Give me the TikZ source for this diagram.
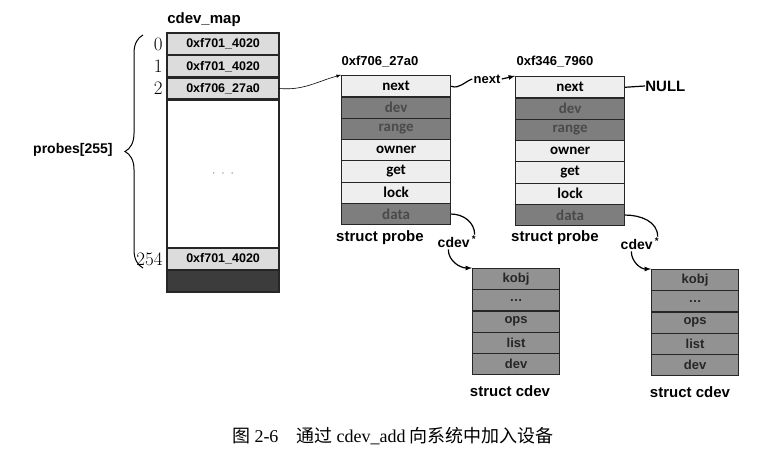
\documentclass[tikz,border=0pt]{standalone}
\usepackage{fontspec}
\newfontfamily\arialfont{Liberation Sans}
\newfontfamily\calfont{Carlito}
\newfontfamily\serfont{Liberation Serif}
\newfontfamily\cjk{Noto Sans CJK SC}
\usepackage{xcolor}
\usepackage{tikz}
\usetikzlibrary{positioning}
\usetikzlibrary{decorations.pathreplacing}

\definecolor{cellMap}{HTML}{DCDCDC}
\definecolor{cellLight}{HTML}{EEEEEE}
\definecolor{cellDark}{HTML}{7E7E7E}
\definecolor{cellMid}{HTML}{929292}
\definecolor{inkGray}{HTML}{4A4A4A}
\definecolor{frameInk}{HTML}{262626}

\tikzset{
  mapcell/.style={draw=frameInk, line width=1.2pt, fill=cellMap, minimum width=111pt, minimum height=21pt, inner sep=0pt, anchor=north west, font=\arialfont\bfseries\fontsize{12.5}{12.5}\selectfont},
  pfield/.style={draw=frameInk, line width=1.2pt, minimum width=109pt, minimum height=21.3pt, inner sep=0pt, anchor=north west, font=\calfont\bfseries\fontsize{15}{15}\selectfont},
  cfield/.style={draw=frameInk, line width=1.2pt, fill=cellMid, text=black!85, minimum width=87pt, minimum height=21.2pt, inner sep=0pt, anchor=north west, font=\arialfont\bfseries\fontsize{13}{13}\selectfont},
  lbl/.style={font=\arialfont\bfseries\fontsize{13}{13}\selectfont, inner sep=1pt},
  biglbl/.style={lbl, font=\arialfont\bfseries\fontsize{15}{15}\selectfont},
  idx/.style={font=\fontsize{19}{19}\selectfont, inner sep=0pt},
}

\begin{document}
\begin{tikzpicture}[x=1pt, y=-1pt, >=latex, thick]
    \useasboundingbox (0,0) rectangle (780,455);

        % cdev_map array
        \node[biglbl] (mapname) at (204,20) {cdev\_map};
        \node[mapcell] (m0) at (167,33) {0xf701\_4020};
        \node[mapcell, below=0pt of m0] (m1) {0xf701\_4020};
        \node[mapcell, below=0pt of m1] (m2) {0xf706\_27a0};
        \node[mapcell, below=0pt of m2, fill=white, minimum height=147pt, text=black!60] (mgap) {$\cdot\;\cdot\;\cdot$};
        \node[mapcell, below=0pt of mgap] (m254) {0xf701\_4020};
        \node[mapcell, below=0pt of m254, fill=frameInk!90] (mdark) {};
        \draw[line width=2.4pt, frameInk] (m0.north west) rectangle (mdark.south east);

        % indices
        \node[idx, left=4pt of m0] (i0) {0};
        \node[idx, left=4pt of m1] (i1) {1};
        \node[idx, left=4pt of m2] (i2) {2};
        \node[idx, left=4pt of m254] (i254) {254};

        % brace and its label
        \draw[decorate, decoration={brace, amplitude=18pt}, line width=1pt] (143,268) -- (143,35);
        \node[lbl, font=\arialfont\bfseries\fontsize{14}{14}\selectfont, anchor=east] (prb) at (114,150) {probes[255]};

        % two struct probe
        \foreach \f/\c/\t [count=\i] in {next/cellLight/black, dev/cellDark/inkGray, range/cellDark/inkGray, owner/cellLight/black, get/cellLight/black, lock/cellLight/black, data/cellDark/inkGray}{
            \node[pfield, fill=\c, text=\t] (pa\i) at (341,{75+21.3*(\i-1)}) {\f};
            \node[pfield, fill=\c, text=\t] (pb\i) at (515,{76+21.3*(\i-1)}) {\f};
        }
        \node[lbl] (addra) at (380,62) {0xf706\_27a0};
        \node[lbl] (addrb) at (555,62) {0xf346\_7960};
        \node[biglbl] (spa) at (380,238) {struct probe};
        \node[biglbl] (spb) at (555,238) {struct probe};

        % two struct cdev
        \foreach \f [count=\i] in {kobj, {\ldots}, ops, list, dev}{
            \node[cfield] (ca\i) at (472,{268+21.2*(\i-1)}) {\f};
            \node[cfield] (cb\i) at (651,{269+21.2*(\i-1)}) {\f};
        }
        \node[biglbl] (sca) at (510,391) {struct cdev};
        \node[biglbl] (scb) at (690,392) {struct cdev};

        % links
        \draw[->, line width=0.6pt] (m2.east) to[out=-5, in=195] (pa1.north west);
        \node[lbl] (nxt) at (487,79) {next};
        \draw[line width=1.2pt] (pa1.east) to[out=-20, in=200] (nxt.west);
        \draw[->, line width=1.2pt] (nxt.east) -- (pb1.north west);
        \node[font=\arialfont\bfseries\fontsize{15}{15}\selectfont, anchor=west, inner sep=0pt] (null) at (645,86) {NULL};
        \draw[line width=1.2pt] (pb1.east) -- (null.west);

        \node[lbl, font=\arialfont\bfseries\fontsize{14}{14}\selectfont] (cpa) at (457,242) {cdev\,\textsuperscript{*}};
        \node[lbl, font=\arialfont\bfseries\fontsize{14}{14}\selectfont] (cpb) at (640,244) {cdev\,\textsuperscript{*}};
        \draw[line width=1.2pt] (pa7.east) to[out=0, in=90] ([xshift=-3pt]cpa.north east);
        \draw[->, line width=1.2pt] ([xshift=12pt]cpa.south west) to[out=-90, in=180] (ca1.north west);
        \draw[line width=1.2pt] (pb7.east) to[out=0, in=90] ([xshift=-3pt]cpb.north east);
        \draw[->, line width=1.2pt] ([xshift=12pt]cpb.south west) to[out=-90, in=180] (cb1.north west);

        % caption
        \node[font=\cjk\fontsize{18}{18}\selectfont] (cap) at (393,436) {图 {\serfont 2-6}\quad 通过 {\serfont cdev\_add} 向系统中加入设备};
    \end{tikzpicture}
\end{document}
